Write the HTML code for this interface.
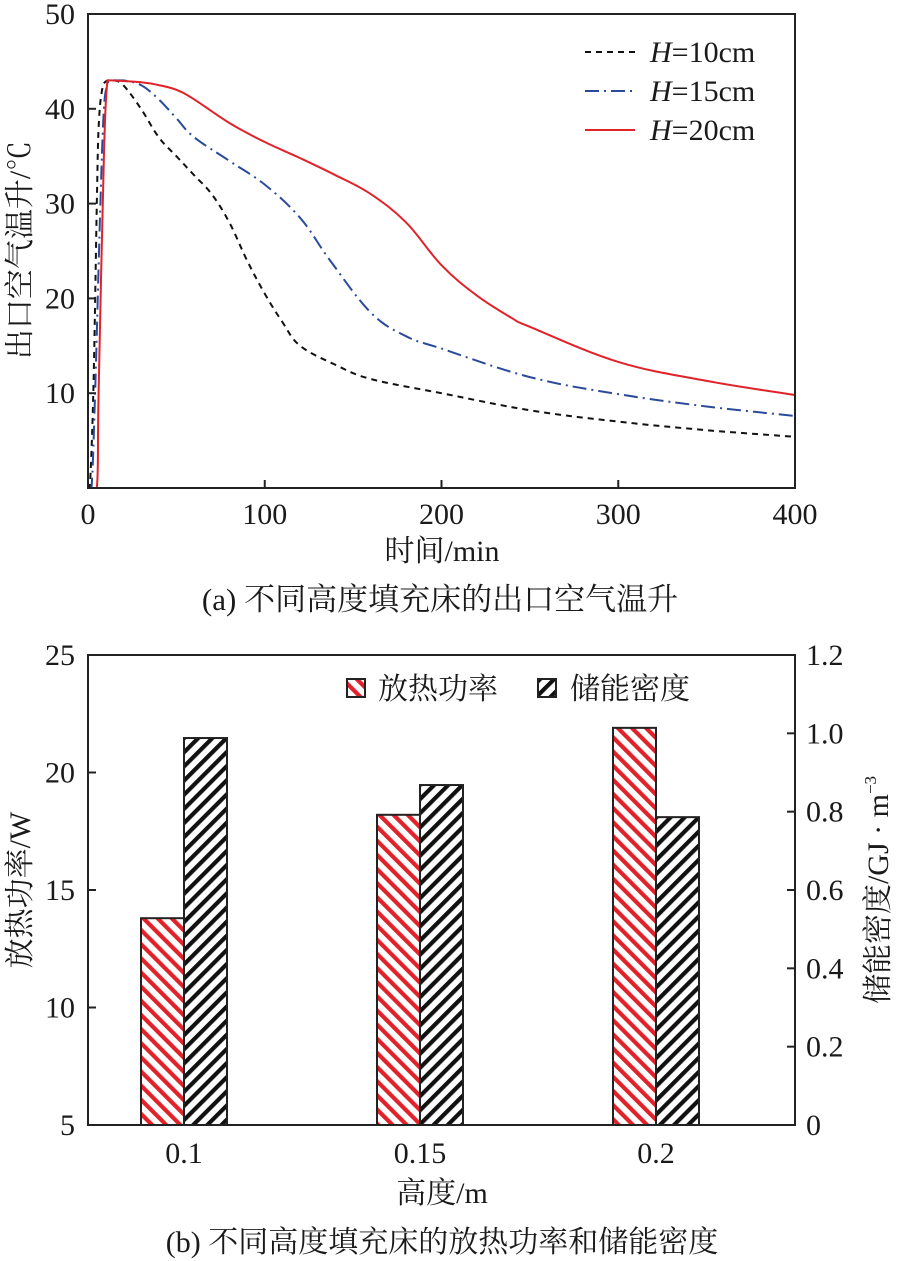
<!DOCTYPE html>
<html><head><meta charset="utf-8"><style>
html,body{margin:0;padding:0;background:#fff;width:897px;height:1261px;overflow:hidden}
svg text{font-family:"Liberation Serif","Noto Serif CJK SC",serif;fill:#1a1a1a}
</style></head><body>
<svg id="c" width="897" height="1261" viewBox="0 0 897 1261" xmlns="http://www.w3.org/2000/svg">
<defs>
<pattern id="hatchRed" patternUnits="userSpaceOnUse" width="10" height="10" patternTransform="rotate(-45)">
<rect width="10" height="10" fill="#fff"/><rect x="0" y="0" width="4.2" height="10" fill="#e0222a"/></pattern>
<pattern id="hatchBlack" patternUnits="userSpaceOnUse" width="10" height="10" patternTransform="rotate(45)">
<rect width="10" height="10" fill="#fff"/><rect x="0" y="0" width="4.2" height="10" fill="#111"/></pattern>
<clipPath id="clipA"><rect x="88" y="14" width="707" height="474"/></clipPath>
</defs>
<g id="chartA"></g>
<g id="chartB"></g>
</svg>
<script>
// ---- chart (a) data ----
const tA10 = [0,1,3,5,6,8,11,15,20,30,40,50,60,70,80,90,100,110,120,140,160,200,250,300,350,400];
const vA10 = [0,0,10,30,38,42,43,43,42.5,40,37,35,33,31,28,24,20.5,17.5,15,13,11.5,10,8.2,7,6.1,5.4];
const tA15 = [0,2,4,7,9,11,13,20,30,40,50,60,80,100,120,137,160,180,200,250,300,350,400];
const vA15 = [0,0,10,30,40,42.5,43,43,42.5,41,39,37,34.5,32,28.5,24,18.5,16,14.7,11.7,9.9,8.6,7.6];
const tA20 = [0,5,6,9,11,13,30,40,50,60,80,100,120,140,160,180,200,220,240,250,300,350,400];
const vA20 = [0,0,10,35,43,43,42.8,42.5,42,41,38.5,36.5,34.8,33,31,28,23.5,20.3,17.9,17,13.3,11.3,9.8];
const xTicksA = [0,100,200,300,400];
const yTicksA = [10,20,30,40,50];
// ---- chart (b) data ----
const cats = ["0.1","0.15","0.2"];
const power = [13.8,18.2,21.9];
const density = [0.988,0.868,0.786];
const yTicksL = [5,10,15,20,25];
const yTicksR = [0,0.2,0.4,0.6,0.8,1.0,1.2];

const NS="http://www.w3.org/2000/svg";
const FS=30;
function mk(parent,tag,attrs,text){const e=document.createElementNS(NS,tag);for(const k in attrs)e.setAttribute(k,attrs[k]);if(text!==undefined)e.textContent=text;parent.appendChild(e);return e;}
function clampY(y,a,b){const lo=Math.min(a,b),hi=Math.max(a,b);return Math.max(lo,Math.min(hi,y));}
function smooth(pts){
  let d='M'+pts[0][0].toFixed(1)+','+pts[0][1].toFixed(1);
  for(let i=0;i<pts.length-1;i++){
    const p0=pts[Math.max(0,i-1)],p1=pts[i],p2=pts[i+1],p3=pts[Math.min(pts.length-1,i+2)];
    const k=0.18;
    const c1=[p1[0]+(p2[0]-p0[0])*k,clampY(p1[1]+(p2[1]-p0[1])*k,p1[1],p2[1])];
    const c2=[p2[0]-(p3[0]-p1[0])*k,clampY(p2[1]-(p3[1]-p1[1])*k,p1[1],p2[1])];
    d+=' C'+c1.map(v=>v.toFixed(1)).join(',')+' '+c2.map(v=>v.toFixed(1)).join(',')+' '+p2[0].toFixed(1)+','+p2[1].toFixed(1);
  }
  return d;
}

// chart a
const gA=document.getElementById('chartA');
const ax=v=>88+(v/400)*707, ay=v=>488-(v/50)*474;
const curves=mk(gA,'g',{'clip-path':'url(#clipA)'});


const dataSets=[[tA10,vA10,'#111','6,5','curve-h10'],[tA15,vA15,'#2b4a9b','14,5,2,5','curve-h15'],[tA20,vA20,'#e0222a','none','curve-h20']];
dataSets.forEach(([ts,vs,col,da,name])=>{
  const p=mk(curves,'path',{d:smooth(ts.map((x,i)=>[ax(x),ay(vs[i])])),fill:'none',stroke:col,'stroke-width':2,'stroke-dasharray':da,'stroke-linejoin':'round'});
  
  
});
let fr=mk(gA,'rect',{x:88,y:14,width:707,height:474,fill:'none',stroke:'#222','stroke-width':2});


xTicksA.forEach(v=>{mk(gA,'line',{x1:ax(v),x2:ax(v),y1:488,y2:480,stroke:'#222','stroke-width':2});
  const l=mk(gA,'text',{x:ax(v),y:524,'font-size':FS,'text-anchor':'middle'},v);
  
  });
yTicksA.forEach(v=>{mk(gA,'line',{x1:88,x2:96,y1:ay(v),y2:ay(v),stroke:'#222','stroke-width':2});
  const l=mk(gA,'text',{x:75,y:ay(v)+10,'font-size':FS,'text-anchor':'end'},v);
  
  });
let tt;
tt=mk(gA,'text',{x:442,y:561,'font-size':FS,'text-anchor':'middle'},'时间/min');


tt=mk(gA,'text',{x:0,y:0,'font-size':FS,'text-anchor':'middle',transform:'translate(30,250) rotate(-90)'},'出口空气温升/℃');


tt=mk(gA,'text',{x:440,y:610,'font-size':31,'text-anchor':'middle'},'(a) 不同高度填充床的出口空气温升');


[['10','#111','6,5',52],['15','#2b4a9b','14,5,2,5',91],['20','#e0222a','none',130]].forEach(([h,col,da,y])=>{
  const g=mk(gA,'g',{});
  
  
  mk(g,'line',{x1:585,x2:635,y1:y,y2:y,stroke:col,'stroke-width':2,'stroke-dasharray':da});
  const tx=mk(g,'text',{x:650,y:y+10,'font-size':FS});
  mk(tx,'tspan',{'font-style':'italic'},'H');mk(tx,'tspan',{},'='+h+'cm');
});

// chart b
const gB=document.getElementById('chartB');
const by=v=>1125-((v-5)/20)*470, bry=v=>1125-(v/1.2)*470, bx=i=>184+236*i;
cats.forEach((c,i)=>{
  const r1=mk(gB,'rect',{x:bx(i)-43,y:by(power[i]),width:43,height:1125-by(power[i]),fill:'url(#hatchRed)',stroke:'#222','stroke-width':2});
  
  
  const r2=mk(gB,'rect',{x:bx(i),y:bry(density[i]),width:43,height:1125-bry(density[i]),fill:'url(#hatchBlack)',stroke:'#222','stroke-width':2});
  
  
  const l=mk(gB,'text',{x:bx(i),y:1163,'font-size':FS,'text-anchor':'middle'},c);
  
  
});
fr=mk(gB,'rect',{x:88,y:655,width:707,height:470,fill:'none',stroke:'#222','stroke-width':2});


yTicksL.forEach(v=>{mk(gB,'line',{x1:88,x2:96,y1:by(v),y2:by(v),stroke:'#222','stroke-width':2});
  const l=mk(gB,'text',{x:75,y:by(v)+10,'font-size':FS,'text-anchor':'end'},v);
  
  });
yTicksR.forEach(v=>{mk(gB,'line',{x1:787,x2:795,y1:bry(v),y2:bry(v),stroke:'#222','stroke-width':2});
  const l=mk(gB,'text',{x:806,y:bry(v)+10,'font-size':FS},v===0?'0':v.toFixed(1));
  
  });
tt=mk(gB,'text',{x:442,y:1203,'font-size':FS,'text-anchor':'middle'},'高度/m');


tt=mk(gB,'text',{x:0,y:0,'font-size':FS,'text-anchor':'middle',transform:'translate(30,890) rotate(-90)'},'放热功率/W');


tt=mk(gB,'text',{x:0,y:0,'font-size':FS,'text-anchor':'middle',transform:'translate(888,890) rotate(-90)'});
mk(tt,'tspan',{},'储能密度/GJ · m');mk(tt,'tspan',{dy:-12,'font-size':17},'−3');


tt=mk(gB,'text',{x:442,y:1252,'font-size':FS,'text-anchor':'middle'},'(b) 不同高度填充床的放热功率和储能密度');


let lg=mk(gB,'g',{});


mk(lg,'rect',{x:347,y:679,width:18,height:18,fill:'url(#hatchRed)',stroke:'#222','stroke-width':2});
mk(lg,'text',{x:378,y:699,'font-size':FS},'放热功率');
lg=mk(gB,'g',{});


mk(lg,'rect',{x:538,y:679,width:18,height:18,fill:'url(#hatchBlack)',stroke:'#222','stroke-width':2});
mk(lg,'text',{x:570,y:699,'font-size':FS},'储能密度');
</script>
</body></html>
